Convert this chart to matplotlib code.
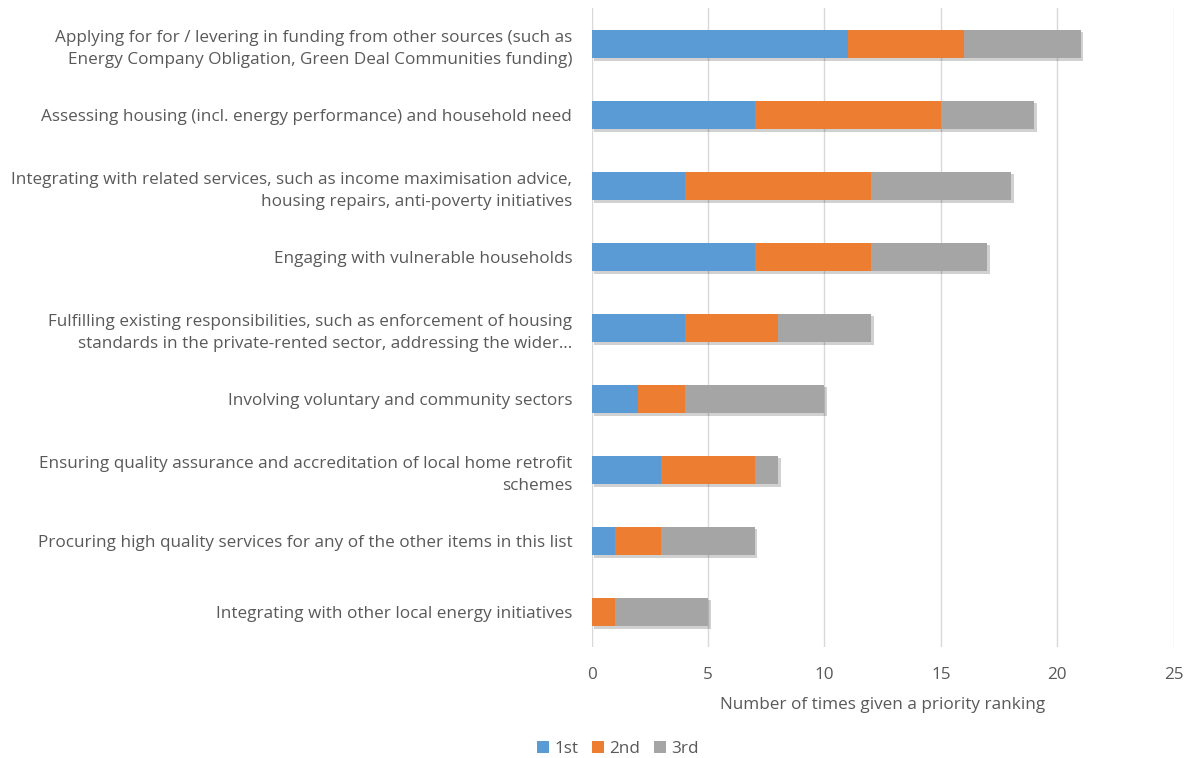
import numpy as np
import matplotlib
matplotlib.use('Agg')
import matplotlib.pyplot as plt
import matplotlib.patheffects as pe
from matplotlib.patches import Patch

plt.rcParams['font.family'] = ['Open Sans', 'DejaVu Sans']

labels = ['Applying for for / levering in funding from other sources (such as\nEnergy Company Obligation, Green Deal Communities funding)',
          'Assessing housing (incl. energy performance) and household need',
          'Integrating with related services, such as income maximisation advice,\nhousing repairs, anti-poverty initiatives',
          'Engaging with vulnerable households',
          'Fulfilling existing responsibilities, such as enforcement of housing\nstandards in the private-rented sector, addressing the wider\u2026',
          'Involving voluntary and community sectors',
          'Ensuring quality assurance and accreditation of local home retrofit\nschemes',
          'Procuring high quality services for any of the other items in this list',
          'Integrating with other local energy initiatives']
first = [11, 7, 4, 7, 4, 2, 3, 1, 0]
second = [5, 8, 8, 5, 4, 2, 4, 2, 1]
third = [5, 4, 6, 5, 4, 6, 1, 4, 4]
series = ['1st', '2nd', '3rd']
colors = ['#5b9bd5', '#ed7d31', '#a5a5a5']

fig = plt.figure(figsize=(11.88, 7.58), dpi=100)
ax = fig.add_axes([0.498, 0.146, 0.49, 0.843])

y = np.arange(len(labels))
left = np.zeros(len(labels))
shadow = [pe.SimplePatchShadow(offset=(2, -2), shadow_rgbFace='#000000', alpha=0.18), pe.Normal()]
for vals, name, c in zip([first, second, third], series, colors):
    bars = ax.barh(y, vals, left=left, height=0.4, color=c, zorder=3)
    for b in bars:
        b.set_path_effects(shadow)
    left = left + np.array(vals)

ax.set_yticks(y)
ax.set_yticklabels(labels, fontsize=12.3, color='#595959', linespacing=1.55)
ax.set_ylim(8.5, -0.5)
ax.set_xlim(0, 25)
ax.set_xticks([0, 5, 10, 15, 20, 25])
ax.tick_params(axis='x', labelsize=12.3, colors='#595959', length=0, pad=14)
ax.tick_params(axis='y', length=0, pad=14)
ax.grid(axis='x', color='#d9d9d9', lw=1, zorder=0)
for s in ax.spines.values():
    s.set_visible(False)
ax.set_xlabel('Number of times given a priority ranking', fontsize=12.3, color='#595959', labelpad=10)

handles = [Patch(facecolor=c, label=n) for n, c in zip(series, colors)]
fig.legend(handles=handles, loc='center', bbox_to_anchor=(0.52, 0.012), ncol=3, frameon=False, fontsize=12.3,
           handlelength=0.7, handleheight=0.7, handletextpad=0.3, columnspacing=0.8, labelcolor='#595959')

fig.savefig('out.png', dpi=100)
